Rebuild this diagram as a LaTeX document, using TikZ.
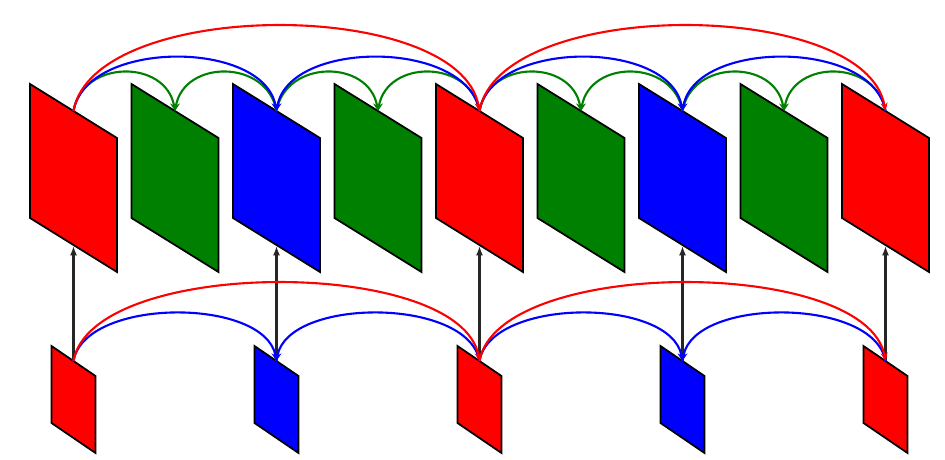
\documentclass[tikz,border=0pt]{standalone}
\usetikzlibrary{arrows.meta}
\definecolor{fred}{RGB}{255,0,0}
\definecolor{fgreen}{RGB}{0,128,0}
\definecolor{fblue}{RGB}{0,0,255}
\begin{document}
\begin{tikzpicture}[x=0.3mm,y=-0.3mm,
        frame/.style={draw=black,line width=1.5pt,line join=miter},
        link/.style={line width=1.8pt,-{Stealth[length=7pt,width=6pt]}},
        up/.style={draw=black!85,line width=1.8pt,-{Latex[length=8pt,width=6pt]}}]

    \useasboundingbox (0,0) rectangle (945,459);

    \foreach \k/\c in {0/fred,1/fgreen,2/fblue,3/fgreen,4/fred,5/fgreen,6/fblue,7/fgreen,8/fred} {
        \filldraw[frame,fill=\c] (30+101.5*\k,84) -- ++(87,54) -- ++(0,134) -- ++(-87,-54) -- cycle;
        \coordinate (t\k) at (73.5+101.5*\k,111);
        \coordinate (b\k) at (73.5+101.5*\k,246);
    }
    \foreach \j/\c in {0/fred,1/fblue,2/fred,3/fblue,4/fred} {
        \filldraw[frame,fill=\c] (51.5+203*\j,346) -- ++(44,30) -- ++(0,77) -- ++(-44,-30) -- cycle;
        \coordinate (s\j) at (73.5+203*\j,361);
    }

    \foreach \j/\k in {0/0,1/2,2/4,3/6,4/8}
        \draw[up] (s\j) -- (b\k);

    \foreach \a/\b in {0/1,2/3,4/5,6/7}
        \draw[link,fgreen] (t\a) to[bend left=80,looseness=1.33] (t\b);
    \foreach \a/\b in {2/1,4/3,6/5,8/7}
        \draw[link,fgreen] (t\a) to[bend right=80,looseness=1.33] (t\b);
    \foreach \a/\b in {0/2,4/6}
        \draw[link,fblue] (t\a) to[bend left=80,looseness=0.92] (t\b);
    \foreach \a/\b in {4/2,8/6}
        \draw[link,fblue] (t\a) to[bend right=80,looseness=0.92] (t\b);
    \foreach \a/\b in {0/4,4/8}
        \draw[link,fred] (t\a) to[bend left=80,looseness=0.73] (t\b);

    \foreach \a/\b in {0/1,2/3}
        \draw[link,fblue] (s\a) to[bend left=80,looseness=0.82] (s\b);
    \foreach \a/\b in {2/1,4/3}
        \draw[link,fblue] (s\a) to[bend right=80,looseness=0.82] (s\b);
    \foreach \a/\b in {0/2,2/4}
        \draw[link,fred] (s\a) to[bend left=80,looseness=0.67] (s\b);
\end{tikzpicture}
\end{document}
